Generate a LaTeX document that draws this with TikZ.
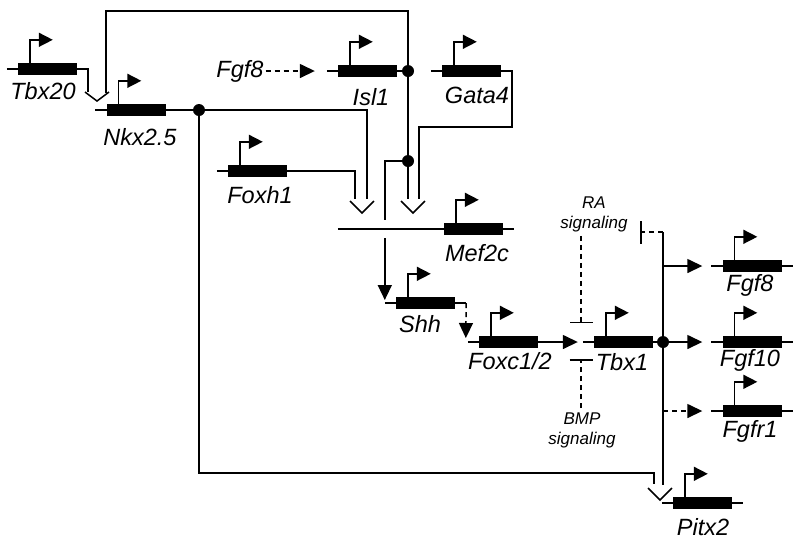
\documentclass[tikz,border=0pt]{standalone}
\usepackage{fontspec}
\setmainfont{Liberation Sans}
\usetikzlibrary{arrows.meta, positioning}
\tikzstyle{dna} = [line width=1.5pt]
\tikzstyle{gene} = [rectangle, fill=black, minimum width=59pt, minimum height=12pt, inner sep=0pt]
\tikzstyle{promoter} = [dna, -{Triangle[length=14pt,width=14pt]}]
\tikzstyle{arrow} = [dna, -{Triangle[length=15pt,width=14pt]}]
\tikzstyle{weak} = [dash pattern=on 5pt off 4pt]
\tikzstyle{inhibit} = [dna, weak, -{Bar[width=23pt]}]
\tikzstyle{junction} = [circle, fill=black, minimum size=12pt, inner sep=0pt]
\tikzstyle{genename} = [font=\fontsize{23.5}{27}\selectfont\itshape, inner sep=2pt, text height=17pt, text depth=5pt]
\tikzstyle{sigtext} = [font=\fontsize{17}{20}\selectfont\itshape, align=center, inner sep=4pt]

\newcommand{\gene}[4]{%
  \node[gene] (#1) at (#2) {};
  \draw[dna] ([xshift=-11pt]#1.west) -- ([xshift=11pt]#1.east);
  \draw[promoter] ([xshift=12pt]#1.north west) -- ++(0,-23) -- ++(23,0);
  \node[genename] (#1name) at (#4) {#3};
}
\newcommand{\chevron}[2][12]{%
  \draw[dna] ([shift={(-12,-#1)}]#2) -- (#2) -- ([shift={(12,-#1)}]#2);
}

\begin{document}
\begin{tikzpicture}[x=1pt, y=-1pt]
\useasboundingbox (0,0) rectangle (800,539);

\gene{tbx20}{47.5,69}{Tbx20}{43,93}
\gene{nkx}{136,110}{Nkx2.5}{140,139}
\gene{isl}{367.5,71}{Isl1}{371,99}
\gene{gata}{471.5,71}{Gata4}{477,97}
\gene{foxh}{257.5,171}{Foxh1}{260,197}
\gene{mef}{473.5,229}{Mef2c}{477,255}
\gene{shh}{425.5,303}{Shh}{420,326}
\gene{foxc}{508.5,342}{Foxc1/2}{510,363}
\gene{tbx1}{623.5,342}{Tbx1}{622,364}
\gene{fgf8}{752,266}{Fgf8}{750,285}
\gene{fgf10}{752,342}{Fgf10}{750,360}
\gene{fgfr1}{752,411}{Fgfr1}{750,431}
\gene{pitx}{702.5,503}{Pitx2}{703,529}

\node[junction] (nkxdot) at (199,110) {};
\node[junction] (isldot) at (408,71) {};
\node[junction] (isldot2) at (408,161) {};
\node[junction] (tbxdot) at (663,342) {};
\coordinate (vnkx) at (97,101);
\coordinate (vmef1) at (362,213);
\coordinate (vmef2) at (413,213);
\coordinate (vpitx) at (660,500);
\coordinate (bustop) at (663,232);
\coordinate (rabar) at (640,232);
\coordinate (raend) at (581,323);
\coordinate (bmpend) at (581,359);

\node[genename] (fgf8in) at (240,71) {Fgf8};
\node[sigtext] (ralab) at (594,214) {RA\\signaling};
\node[sigtext] (bmplab) at (582,430) {BMP\\signaling};

\chevron[9]{vnkx}
\chevron{vmef1}
\chevron{vmef2}
\chevron{vpitx}

\draw[dna] (tbx20.east) -| ([shift={(-9,-9)}]vnkx);
\draw[dna] (isldot) -- ++(0,-60) -| ([shift={(9,-8)}]vnkx);
\draw[dna] (nkx.east) -- (nkxdot) -| ([shift={(5,-14)}]vmef1);
\draw[dna] (foxh.east) -| ([shift={(-7,-14)}]vmef1);
\draw[dna] (isldot) -- (isldot2) -- ([shift={(-5,-14)}]vmef2);
\draw[dna] (gata.east) -- ++(11,0) -- ++(0,56) -| ([shift={(6,-14)}]vmef2);
\draw[arrow] (isldot2) -| ([shift={(-11,-3)}]shh.west);
\draw[dna, preaction={draw, white, line width=18pt}] ([xshift=-106pt]mef.west) -- (mef.west);
\draw[dna] (nkxdot) -- ++(0,363) -| ([shift={(-6,-16)}]vpitx);
\draw[arrow, weak] (fgf8in.east) -- ([xshift=-23pt]isl.west);
\draw[arrow, weak] ([xshift=11pt]shh.east) -- ([shift={(-13,-4)}]foxc.west);
\draw[arrow] (foxc.east) -- ([xshift=-16pt]tbx1.west);
\draw[dna] (tbx1.east) -- (tbxdot);
\draw[dna] (bustop) -- ([shift={(3,-15)}]vpitx);
\draw[inhibit] (bustop) -- (rabar);
\draw[inhibit] (ralab.south -| raend) -- (raend);
\draw[inhibit] (bmplab.north -| bmpend) -- (bmpend);
\draw[arrow] (tbxdot |- fgf8) -- ([xshift=-20pt]fgf8.west);
\draw[arrow] (tbxdot) -- ([xshift=-20pt]fgf10.west);
\draw[arrow, weak] (tbxdot |- fgfr1) -- ([xshift=-20pt]fgfr1.west);

\end{tikzpicture}
\end{document}
